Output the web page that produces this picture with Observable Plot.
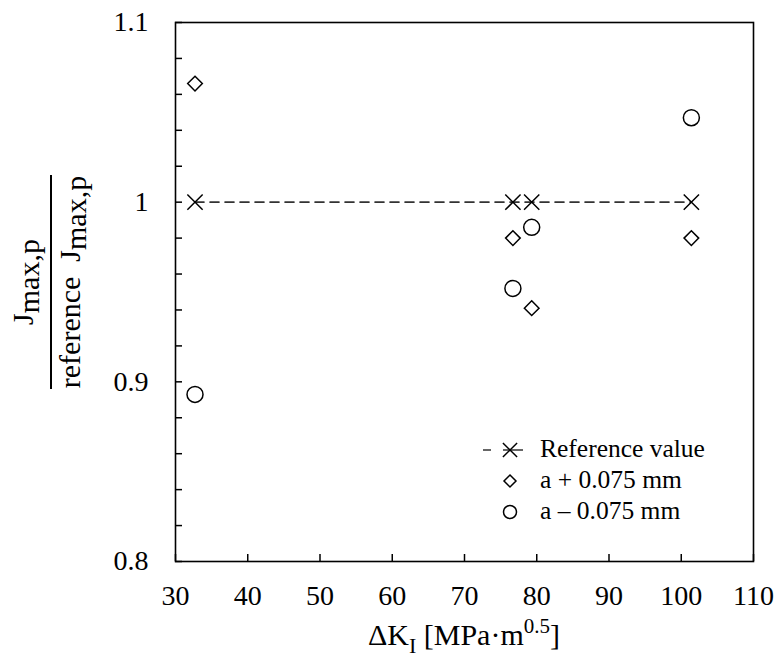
<!DOCTYPE html>
<html>
<head>
<meta charset="utf-8">
<script src="https://cdn.jsdelivr.net/npm/d3@7"></script>
<script src="https://cdn.jsdelivr.net/npm/@observablehq/plot@0.6"></script>
<style>
  html, body { margin: 0; padding: 0; background: #fff; }
  #chart svg { display: block; }
  #chart svg, #chart svg text { font-family: "Liberation Serif", "Times New Roman", serif; }
</style>
</head>
<body>
<div id="chart"></div>
<script>
// ---- data ----
const deltaK      = [32.7, 76.7, 79.3, 101.4];        // ΔK_I [MPa·m^0.5]
const refValue    = [1.0, 1.0, 1.0, 1.0];             // reference value
const plusValue   = [1.066, 0.980, 0.941, 0.980];     // a + 0.075 mm
const minusValue  = [0.893, 0.952, 0.986, 1.047];     // a − 0.075 mm

const xTicks      = [30, 40, 50, 60, 70, 80, 90, 100, 110];
const yLabelTicks = [0.8, 0.9, 1.0, 1.1];
const yMinorTicks = [0.8, 0.82, 0.84, 0.86, 0.88, 0.9, 0.92, 0.94, 0.96, 0.98,
                     1.0, 1.02, 1.04, 1.06, 1.08, 1.1];

const legendLabels = ["Reference value", "a + 0.075 mm", "a \u2013 0.075 mm"];

const refRows   = deltaK.map((x, i) => ({x, y: refValue[i]}));
const plusRows  = deltaK.map((x, i) => ({x, y: plusValue[i]}));
const minusRows = deltaK.map((x, i) => ({x, y: minusValue[i]}));

const FONT = "Liberation Serif";
const W = 778, H = 659;
const mL = 175, mR = 25, mT = 22, mB = 98;
const tickLenY = 0.3 * 7 / (H - mT - mB);   // ~7px in y data units
const tickLenX = 80 * 7 / (W - mL - mR);    // ~7px in x data units

const plot = Plot.plot({
  width: W,
  height: H,
  marginLeft: mL,
  marginRight: mR,
  marginTop: mT,
  marginBottom: mB,
  style: { fontFamily: FONT, fontSize: "28px", color: "#000", background: "#fff" },
  x: { domain: [30, 110] },
  y: { domain: [0.8, 1.1] },
  marks: [
    // inward ticks
    Plot.ruleX(xTicks, { x: d => d, y1: 0.8, y2: 0.8 + tickLenY, stroke: "#000", strokeWidth: 1.5 }),
    Plot.ruleY(yMinorTicks, { y: d => d, x1: 30, x2: 30 + tickLenX, stroke: "#000", strokeWidth: 1.5 }),
    Plot.axisX({ ticks: xTicks, tickSize: 0, tickPadding: 24, label: null, fontSize: 28, fontFamily: FONT, tickFormat: d => String(d) }),
    Plot.axisY({ ticks: yLabelTicks, tickSize: 0, tickPadding: 27, label: null, fontSize: 28, fontFamily: FONT, tickFormat: d => String(+d.toFixed(1)) }),
    Plot.frame({ stroke: "#000", strokeWidth: 1.6 }),
    // reference dashed line
    Plot.line(refRows, { x: "x", y: "y", stroke: "#333", strokeWidth: 1.6, strokeDasharray: "9,6" }),
    Plot.dot(refRows,   { x: "x", y: "y", symbol: "times",    r: 7.0, stroke: "#000", strokeWidth: 1.5, fill: "none" }),
    Plot.dot(plusRows,  { x: "x", y: "y", symbol: "diamond2", r: 6.6, stroke: "#000", strokeWidth: 1.5, fill: "none" }),
    Plot.dot(minusRows, { x: "x", y: "y", symbol: "circle",   r: 8.0, stroke: "#000", strokeWidth: 1.5, fill: "none" })
  ]
});

document.getElementById("chart").appendChild(plot);

const svg = d3.select(plot);

// ---- y-axis label: fraction, rotated ----
const yl = svg.append("g")
  .attr("transform", "translate(0,282) rotate(-90)")
  .attr("font-family", FONT)
  .attr("font-size", 30)
  .attr("fill", "#000");
const num = yl.append("text").attr("x", 0).attr("y", 33).attr("text-anchor", "middle");
num.append("tspan").text("J");
num.append("tspan").attr("dy", 6).text("max,p");
yl.append("line").attr("x1", -107).attr("x2", 107).attr("y1", 51).attr("y2", 51)
  .attr("stroke", "#000").attr("stroke-width", 2);
const den = yl.append("text").attr("x", 0).attr("y", 80).attr("text-anchor", "middle");
den.append("tspan").text("reference  J");
den.append("tspan").attr("dy", 6).text("max,p");

// ---- x-axis label ----
const xl = svg.append("text")
  .attr("x", (mL + W - mR) / 2)
  .attr("y", 645)
  .attr("text-anchor", "middle")
  .attr("font-family", FONT)
  .attr("font-size", 30)
  .attr("fill", "#000");
xl.append("tspan").text("\u0394K");
xl.append("tspan").attr("dy", 8).attr("font-size", 22).text("I");
xl.append("tspan").attr("dy", -8).text(" [MPa\u00B7m");
xl.append("tspan").attr("dy", -12).attr("font-size", 21).text("0.5");
xl.append("tspan").attr("dy", 12).text("]");

// ---- legend ----
const lg = svg.append("g").attr("font-family", FONT).attr("font-size", 25.5).attr("fill", "#000");
const symX = 510, txtX = 540;
const rowsY = [450, 481, 512];
lg.append("line").attr("x1", 483).attr("x2", 491).attr("y1", rowsY[0]).attr("y2", rowsY[0])
  .attr("stroke", "#333").attr("stroke-width", 1.5);
lg.append("line").attr("x1", 503).attr("x2", 523).attr("y1", rowsY[0]).attr("y2", rowsY[0])
  .attr("stroke", "#333").attr("stroke-width", 1.5);
const symTypes = [d3.symbolTimes, d3.symbolDiamond2, d3.symbolCircle];
const symSizes = [Math.PI * 6.5 * 6.5, Math.PI * 5.4 * 5.4, Math.PI * 6.5 * 6.5];
symTypes.forEach((t, i) => {
  lg.append("path")
    .attr("d", d3.symbol(t, symSizes[i])())
    .attr("transform", `translate(${symX},${rowsY[i]})`)
    .attr("fill", "none").attr("stroke", "#000").attr("stroke-width", 1.5);
  lg.append("text").attr("x", txtX).attr("y", rowsY[i] + 7)
    .attr("text-anchor", "start").text(legendLabels[i]);
});
</script>
</body>
</html>
